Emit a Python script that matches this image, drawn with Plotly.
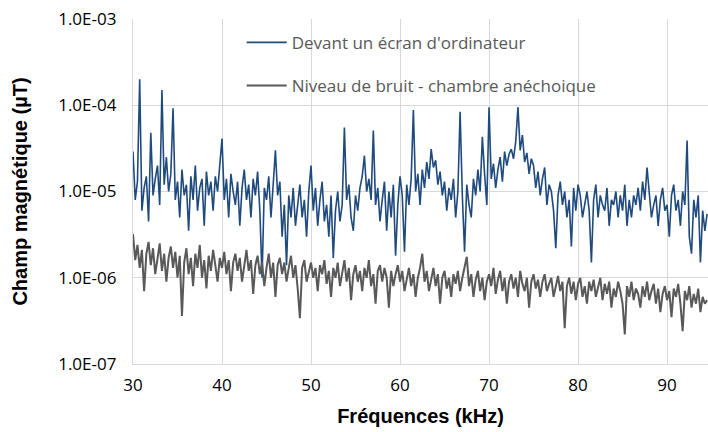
import numpy as np
import plotly.graph_objects as go

# Frequency grid (kHz), 0.25 kHz step from 30 to 94.5
freq_start, freq_stop, freq_step = 30.0, 94.5, 0.25
freq = np.round(np.arange(freq_start, freq_stop + 1e-9, freq_step), 2)

# Devant un écran d'ordinateur (µT)
ecran = [
    29e-6, 8e-6, 13e-6, 200e-6,
    6e-6, 11e-6, 15e-6, 4.5e-6,
    48e-6, 9e-6, 14e-6, 20e-6,
    7e-6, 150e-6, 12e-6, 25e-6,
    10e-6, 16e-6, 92e-6, 8e-6,
    13e-6, 5e-6, 18e-6, 9e-6,
    12e-6, 3.5e-6, 15e-6, 8e-6,
    20e-6, 6e-6, 11e-6, 14e-6,
    4e-6, 17e-6, 9e-6, 13e-6,
    6e-6, 15e-6, 10e-6, 22e-6,
    41e-6, 8e-6, 14e-6, 5e-6,
    16e-6, 10e-6, 7e-6, 13e-6,
    4e-6, 11e-6, 18e-6, 8e-6,
    12e-6, 5e-6, 14e-6, 9e-6,
    17e-6, 6e-6, 1.0e-6, 11e-6,
    8e-6, 15e-6, 5e-6, 12e-6,
    30e-6, 9e-6, 13e-6, 3e-6,
    7e-6, 1.4e-6, 9e-6, 5e-6,
    11e-6, 4e-6, 7e-6, 12e-6,
    5e-6, 8e-6, 3e-6, 10e-6,
    20e-6, 6e-6, 11e-6, 4e-6,
    8e-6, 13e-6, 4.5e-6, 7e-6,
    3e-6, 9e-6, 1.7e-6, 6e-6,
    10e-6, 4.5e-6, 7e-6, 55e-6,
    8e-6, 12e-6, 5e-6, 3.5e-6,
    9e-6, 6e-6, 11e-6, 15e-6,
    26e-6, 10e-6, 14e-6, 8e-6,
    51e-6, 7e-6, 11e-6, 4.5e-6,
    8e-6, 13e-6, 3.5e-6, 10e-6,
    5e-6, 12e-6, 1.8e-6, 7e-6,
    15e-6, 9e-6, 2e-6, 12e-6,
    7e-6, 14e-6, 88e-6, 10e-6,
    16e-6, 7e-6, 18e-6, 11e-6,
    22e-6, 14e-6, 31e-6, 19e-6,
    23e-6, 12e-6, 17e-6, 9e-6,
    13e-6, 6e-6, 11e-6, 8e-6,
    14e-6, 5e-6, 10e-6, 84e-6,
    9e-6, 2.0e-6, 12e-6, 7e-6,
    5e-6, 14e-6, 9e-6, 18e-6,
    10e-6, 43e-6, 16e-6, 7e-6,
    95e-6, 14e-6, 21e-6, 11e-6,
    18e-6, 25e-6, 13e-6, 29e-6,
    20e-6, 27e-6, 31e-6, 24e-6,
    38e-6, 95e-6, 30e-6, 45e-6,
    22e-6, 28e-6, 16e-6, 24e-6,
    20e-6, 11e-6, 17e-6, 9e-6,
    14e-6, 19e-6, 7e-6, 12e-6,
    10e-6, 6e-6, 2.2e-6, 9e-6,
    13e-6, 7e-6, 10e-6, 5e-6,
    8e-6, 2.3e-6, 11e-6, 6e-6,
    12e-6, 9e-6, 5e-6, 7e-6,
    10e-6, 6e-6, 1.5e-6, 8e-6,
    12e-6, 5e-6, 9e-6, 7e-6,
    6e-6, 11e-6, 4e-6, 8e-6,
    7e-6, 10e-6, 5e-6, 9e-6,
    6e-6, 12e-6, 4e-6, 8e-6,
    5e-6, 9e-6, 7e-6, 11e-6,
    6e-6, 13e-6, 8e-6, 19e-6,
    10e-6, 5e-6, 7e-6, 9e-6,
    4e-6, 8e-6, 11e-6, 6e-6,
    7e-6, 3e-6, 9e-6, 12e-6,
    6e-6, 8e-6, 4e-6, 10e-6,
    7e-6, 39e-6, 3e-6, 1.9e-6,
    8e-6, 5e-6, 9e-6, 1.5e-6,
    6e-6, 3.5e-6, 5.5e-6,
]

# Niveau de bruit - chambre anéchoique (µT)
bruit = [
    3.2e-6, 1.6e-6, 2.4e-6, 1.3e-6,
    2.1e-6, 0.7e-6, 1.9e-6, 2.6e-6,
    1.4e-6, 2.2e-6, 1.1e-6, 1.8e-6,
    2.5e-6, 1.2e-6, 1.9e-6, 0.9e-6,
    1.7e-6, 2.3e-6, 1.3e-6, 2.0e-6,
    1.0e-6, 1.8e-6, 0.36e-6, 1.5e-6,
    2.2e-6, 1.1e-6, 1.7e-6, 0.8e-6,
    1.9e-6, 1.3e-6, 2.4e-6, 1.0e-6,
    1.6e-6, 0.75e-6, 1.8e-6, 1.2e-6,
    2.1e-6, 1.4e-6, 0.9e-6, 1.7e-6,
    1.3e-6, 2.0e-6, 1.1e-6, 1.6e-6,
    0.7e-6, 1.5e-6, 1.9e-6, 1.2e-6,
    1.7e-6, 0.9e-6, 1.4e-6, 2.1e-6,
    1.2e-6, 1.6e-6, 0.65e-6, 1.4e-6,
    1.8e-6, 1.1e-6, 1.5e-6, 0.8e-6,
    1.3e-6, 1.9e-6, 1.0e-6, 1.5e-6,
    0.6e-6, 1.4e-6, 1.7e-6, 1.1e-6,
    1.5e-6, 0.9e-6, 1.3e-6, 1.8e-6,
    1.0e-6, 1.4e-6, 0.75e-6, 0.34e-6,
    1.3e-6, 1.6e-6, 0.9e-6, 1.2e-6,
    1.5e-6, 1.0e-6, 1.3e-6, 0.7e-6,
    1.4e-6, 1.1e-6, 1.6e-6, 0.85e-6,
    1.2e-6, 0.6e-6, 1.3e-6, 1.0e-6,
    1.5e-6, 0.8e-6, 1.2e-6, 1.6e-6,
    0.9e-6, 1.3e-6, 0.55e-6, 1.1e-6,
    1.4e-6, 0.9e-6, 1.2e-6, 0.7e-6,
    1.3e-6, 1.0e-6, 1.6e-6, 0.8e-6,
    1.1e-6, 0.5e-6, 1.2e-6, 1.4e-6,
    0.9e-6, 1.3e-6, 1.0e-6, 0.45e-6,
    1.2e-6, 0.8e-6, 1.1e-6, 1.4e-6,
    0.9e-6, 1.2e-6, 0.7e-6, 1.0e-6,
    1.3e-6, 0.8e-6, 1.1e-6, 0.6e-6,
    1.0e-6, 1.3e-6, 1.9e-6, 0.9e-6,
    1.2e-6, 0.7e-6, 1.0e-6, 1.3e-6,
    0.8e-6, 1.1e-6, 0.5e-6, 1.0e-6,
    1.2e-6, 0.75e-6, 1.0e-6, 0.6e-6,
    1.1e-6, 0.85e-6, 1.2e-6, 0.7e-6,
    1.0e-6, 1.3e-6, 1.75e-6, 0.8e-6,
    1.1e-6, 0.6e-6, 0.95e-6, 1.2e-6,
    0.7e-6, 1.0e-6, 0.55e-6, 0.9e-6,
    1.1e-6, 0.8e-6, 1.3e-6, 0.65e-6,
    0.95e-6, 1.2e-6, 0.7e-6, 1.0e-6,
    0.5e-6, 0.9e-6, 1.1e-6, 0.75e-6,
    1.0e-6, 0.6e-6, 1.2e-6, 0.85e-6,
    0.7e-6, 1.0e-6, 0.45e-6, 0.9e-6,
    1.1e-6, 0.75e-6, 0.95e-6, 0.6e-6,
    0.9e-6, 1.1e-6, 0.7e-6, 0.85e-6,
    1.0e-6, 0.6e-6, 0.8e-6, 1.05e-6,
    0.7e-6, 0.9e-6, 0.26e-6, 0.8e-6,
    1.0e-6, 0.65e-6, 0.9e-6, 0.55e-6,
    0.85e-6, 1.0e-6, 0.6e-6, 0.8e-6,
    0.5e-6, 0.9e-6, 0.7e-6, 0.95e-6,
    0.6e-6, 0.8e-6, 1.0e-6, 0.55e-6,
    0.85e-6, 0.65e-6, 0.9e-6, 0.45e-6,
    0.75e-6, 0.6e-6, 0.9e-6, 0.7e-6,
    0.5e-6, 0.22e-6, 0.8e-6, 0.6e-6,
    0.9e-6, 0.55e-6, 0.75e-6, 0.65e-6,
    0.45e-6, 0.8e-6, 0.6e-6, 0.9e-6,
    0.55e-6, 0.7e-6, 0.85e-6, 0.5e-6,
    0.75e-6, 0.4e-6, 0.65e-6, 0.8e-6,
    0.55e-6, 0.7e-6, 0.35e-6, 0.75e-6,
    0.6e-6, 0.85e-6, 0.5e-6, 0.24e-6,
    0.7e-6, 0.55e-6, 0.8e-6, 0.45e-6,
    0.65e-6, 0.5e-6, 0.75e-6, 0.4e-6,
    0.6e-6, 0.5e-6, 0.55e-6,
]

x_ticks = [30, 40, 50, 60, 70, 80, 90]
y_tickvals = [1e-7, 1e-6, 1e-5, 1e-4, 1e-3]
y_ticktext = ["1.0E-07", "1.0E-06", "1.0E-05", "1.0E-04", "1.0E-03"]

n = min(len(freq), len(ecran), len(bruit))
freq = freq[:n]

fig = go.Figure()
fig.add_trace(go.Scatter(
    x=freq, y=ecran[:n], mode="lines", name="Devant un écran d'ordinateur",
    line=dict(color="#1F4A7E", width=1.6), legendgroup="a"))
fig.add_trace(go.Scatter(
    x=freq, y=bruit[:n], mode="lines", name="Niveau de bruit - chambre anéchoique",
    line=dict(color="#595959", width=2), legendgroup="b"))

grid = "#D9D9D9"
fig.update_layout(
    width=708, height=432,
    margin=dict(l=133, r=0, t=19, b=68),
    paper_bgcolor="white", plot_bgcolor="white",
    font=dict(family="Open Sans, Lato, sans-serif", size=15, color="#000000"),
    showlegend=True,
    legend=dict(x=0.189, y=0.983, xanchor="left", yanchor="top",
                bgcolor="rgba(0,0,0,0)", font=dict(size=17, color="#595959"),
                tracegroupgap=18, itemwidth=40),
    shapes=[dict(type="rect", xref="paper", yref="paper",
                 x0=0.0748, x1=0.915, y0=0.742, y1=0.991,
                 fillcolor="white", line=dict(width=0), layer="between")],
)
fig.update_xaxes(
    range=[30, 94.6], tickvals=x_ticks, showgrid=True, gridcolor=grid, gridwidth=1.3,
    showline=True, linecolor=grid, linewidth=1.3, ticks="", zeroline=False,
    automargin=False, tickfont=dict(size=17), ticklabelstandoff=5,
    title=dict(text="<b>Fréquences (kHz)</b>", font=dict(family="Liberation Sans, Arial, sans-serif", size=20), standoff=14),
)
fig.update_yaxes(
    type="log", range=[-7, -3], tickvals=y_tickvals, ticktext=y_ticktext,
    showgrid=True, gridcolor=grid, gridwidth=1.3,
    showline=True, linecolor=grid, linewidth=1.3, ticks="",
    automargin=False, tickfont=dict(size=17), ticklabelstandoff=12,
    title=dict(text="<b>Champ magnétique (µT)</b>", font=dict(family="Liberation Sans, Arial, sans-serif", size=20), standoff=25),
)

fig.write_html("out.html", config={"displayModeBar": False},
               post_script="document.body.style.margin='0';document.body.style.padding='0';")
